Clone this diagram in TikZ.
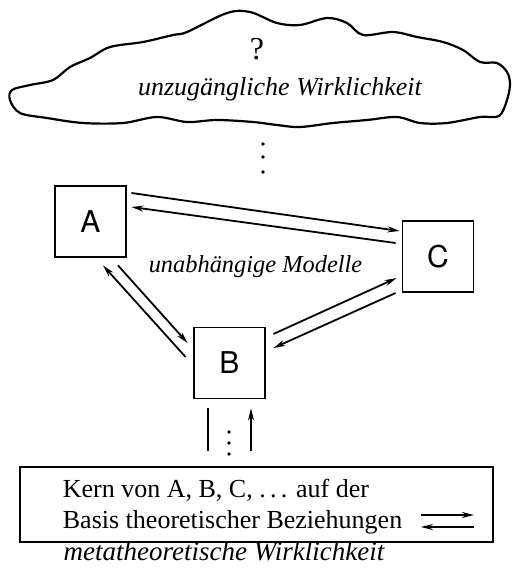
\documentclass[tikz,border=0pt]{standalone}
\usepackage{fontspec}
\setmainfont{Liberation Serif}
\newfontfamily\boxfont{TeX Gyre Heros}
\usetikzlibrary{arrows.meta}

\begin{document}
\begin{tikzpicture}[x=0.5pt,y=-0.5pt,line width=0.9pt,
    modell/.style={draw,minimum size=35.5pt,inner sep=0pt,font=\boxfont\fontsize{15}{15}\selectfont},
    pfeil/.style={-{Stealth[length=6pt,width=3pt]}},
    punkt/.style={fill,radius=1.8}]
            \useasboundingbox (0,0) rectangle (512,568);
            \draw[line width=1.1pt] plot[smooth cycle,tension=0.55] coordinates {
                (187,32) (227,13) (250,12) (277,23) (300,25) (327,18) (347,23) (363,35)
                (393,32) (417,37) (443,42) (463,50) (480,62) (497,63) (507,72) (510,84)
                (507,100) (499,116) (480,117) (447,123) (420,123) (397,117) (367,120)
                (333,123) (300,127) (277,125) (253,122) (217,120) (187,122) (157,117)
                (123,123) (83,123) (47,118) (20,113) (10,100) (12,90) (30,85) (53,80)
                (70,67) (90,58) (110,47) (143,42) (173,35)};
            \node (frage) at (257,49) {\fontsize{16}{16}\selectfont ?};
            \node (wirk) at (280,89) {\fontsize{13}{14}\selectfont\itshape unzugängliche Wirklichkeit};
            \fill[punkt] (263,144) circle;
            \fill[punkt] (263,157) circle;
            \fill[punkt] (263,172) circle;
            \node[modell] (A) at (90.5,221.5) {A};
            \node[modell] (C) at (438,256.5) {C};
            \node[modell] (B) at (229.5,363) {B};
            \node (modelle) at (255.5,267) {\fontsize{12.2}{14}\selectfont\itshape unabhängige Modelle};
            \draw[pfeil] ([shift={(4.5,-28.5)}]A.east) -- ([shift={(-2,-25.5)}]C.west);
            \draw[pfeil] ([shift={(-6,-13.5)}]C.west) -- ([shift={(4.5,-14.5)}]A.east);
            \draw[pfeil] ([shift={(-7.5,-6)}]B.west) -- ([shift={(12.5,7.5)}]A.south);
            \draw[pfeil] ([shift={(27.5,7.5)}]A.south) -- ([shift={(-5.5,-20)}]B.west);
            \draw[pfeil] ([shift={(7.5,-29)}]B.east) -- ([shift={(-5,21.5)}]C.west);
            \draw[pfeil] ([shift={(-6,36.5)}]C.west) -- ([shift={(7.5,-15)}]B.east);
            \node[draw,minimum width=236.5pt,minimum height=37.5pt,inner sep=0pt] (kern) at (256.5,504.5) {};
            \draw ([shift={(-21.5,9)}]B.south) -- ([shift={(-48.5,-15)}]kern.north);
            \draw[pfeil] ([shift={(-5.5,-15)}]kern.north) -- ([shift={(21.5,9)}]B.south);
            \fill[punkt] (229,432) circle;
            \fill[punkt] (229,443) circle;
            \fill[punkt] (229,454) circle;
            \node[anchor=west,align=left,inner sep=0pt,font=\fontsize{13}{15.5}\selectfont] (kerntext) at (62,507)
                {Kern von A, B, C, .\,.\,. auf der\\ Basis theoretischer Beziehungen};
            \draw[pfeil] ([shift={(-73,10.5)}]kern.east) -- ([shift={(-20,10.5)}]kern.east);
            \draw[pfeil] ([shift={(-20,22.5)}]kern.east) -- ([shift={(-73,22.5)}]kern.east);
            \node (meta) at (224,551) {\fontsize{13.5}{14}\selectfont\itshape metatheoretische Wirklichkeit};
        \end{tikzpicture}
\end{document}
